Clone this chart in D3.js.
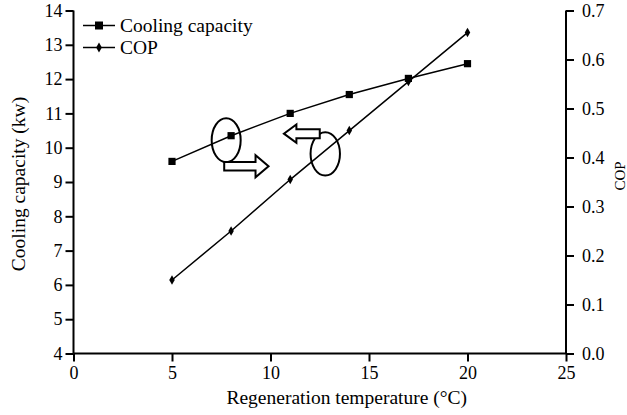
<!DOCTYPE html>
<html>
<head>
<meta charset="utf-8">
<script src="https://cdn.jsdelivr.net/npm/d3@7"></script>
<style>
  body { margin: 0; background: #fff; }
  svg { display: block; font-family: "Liberation Serif", "Times New Roman", serif; }
</style>
</head>
<body>
<div id="chart"></div>
<script>
// Regeneration temperature (°C)
var temps = [5, 8, 11, 14, 17, 20];
// Cooling capacity (kw), left axis
var capacity = [9.6, 10.35, 11.0, 11.55, 12.02, 12.45];
// COP, right axis
var cop = [0.15, 0.25, 0.355, 0.455, 0.555, 0.655];

var xTicks = [0, 5, 10, 15, 20, 25];
var yLeftTicks = [4, 5, 6, 7, 8, 9, 10, 11, 12, 13, 14];
var yRightTicks = [0, 0.1, 0.2, 0.3, 0.4, 0.5, 0.6, 0.7];

var width = 627, height = 415;
var margin = { top: 10.5, right: 61, bottom: 61.5, left: 73.5 };
var innerW = width - margin.left - margin.right;
var innerH = height - margin.top - margin.bottom;
var tickFont = '18px', labelFont = '19.5px';

var svg = d3.select('#chart').append('svg')
    .attr('width', width)
    .attr('height', height);

var g = svg.append('g')
    .attr('transform', 'translate(' + margin.left + ',' + margin.top + ')');

var x = d3.scaleLinear().domain([0, 25]).range([0, innerW]);
var yL = d3.scaleLinear().domain([4, 14]).range([innerH, 0]);
var yR = d3.scaleLinear().domain([0, 0.7]).range([innerH, 0]);

// axes
var xAxis = g.append('g')
    .attr('transform', 'translate(0,' + innerH + ')')
    .call(d3.axisBottom(x).tickValues(xTicks).tickSize(8).tickPadding(5));
var leftAxis = g.append('g')
    .call(d3.axisLeft(yL).tickValues(yLeftTicks).tickSize(8).tickPadding(3));
var rightAxis = g.append('g')
    .attr('transform', 'translate(' + innerW + ',0)')
    .call(d3.axisRight(yR).tickValues(yRightTicks).tickFormat(d3.format('.1f')).tickSize(8).tickPadding(8));

[xAxis, leftAxis, rightAxis].forEach(function(a) {
    a.select('.domain').attr('stroke', '#000').attr('stroke-width', 2);
    a.selectAll('.tick line').attr('stroke', '#000').attr('stroke-width', 2);
    a.selectAll('.tick text')
        .attr('fill', '#000')
        .style('font-size', tickFont)
        .style('font-family', '"Liberation Serif", serif');
});
// plain axis ends, no outer ticks
xAxis.select('.domain').attr('d', 'M0,0H' + innerW);
leftAxis.select('.domain').attr('d', 'M0,0V' + innerH);
rightAxis.select('.domain').attr('d', 'M0,0V' + innerH);

// axis titles
svg.append('text')
    .attr('x', margin.left + innerW / 2 + 27)
    .attr('y', 404)
    .attr('text-anchor', 'middle')
    .style('font-size', labelFont)
    .text('Regeneration temperature (°C)');

svg.append('text')
    .attr('transform', 'translate(25,' + (margin.top + innerH / 2 + 2) + ') rotate(-90)')
    .attr('text-anchor', 'middle')
    .style('font-size', labelFont)
    .text('Cooling capacity (kw)');

svg.append('text')
    .attr('transform', 'translate(625,176) rotate(-90)')
    .attr('text-anchor', 'middle')
    .style('font-size', '15px')
    .text('COP');

// series
var capData = temps.map(function(t, i) { return { x: t, y: capacity[i] }; });
var copData = temps.map(function(t, i) { return { x: t, y: cop[i] }; });

var lineL = d3.line().x(function(d) { return x(d.x); }).y(function(d) { return yL(d.y); });
var lineR = d3.line().x(function(d) { return x(d.x); }).y(function(d) { return yR(d.y); });

g.append('path').datum(capData)
    .attr('d', lineL)
    .attr('fill', 'none').attr('stroke', '#000').attr('stroke-width', 1.5);
g.append('path').datum(copData)
    .attr('d', lineR)
    .attr('fill', 'none').attr('stroke', '#000').attr('stroke-width', 1.5);

var sq = d3.symbol().type(d3.symbolSquare).size(52);
var dm = d3.symbol().type(d3.symbolDiamond).size(26);

g.selectAll('.cap-pt').data(capData).enter().append('path')
    .attr('class', 'cap-pt')
    .attr('d', sq)
    .attr('transform', function(d) { return 'translate(' + x(d.x) + ',' + yL(d.y) + ')'; })
    .attr('fill', '#000');
g.selectAll('.cop-pt').data(copData).enter().append('path')
    .attr('class', 'cop-pt')
    .attr('d', dm)
    .attr('transform', function(d) { return 'translate(' + x(d.x) + ',' + yR(d.y) + ')'; })
    .attr('fill', '#000');

// annotations: ellipses and hollow arrows (in data units of left axis)
function ell(cx, cy, rx, ry) {
    g.append('ellipse')
        .attr('cx', x(cx)).attr('cy', yL(cy))
        .attr('rx', rx).attr('ry', ry)
        .attr('fill', 'none').attr('stroke', '#000').attr('stroke-width', 2);
}
ell(7.75, 10.22, 14.5, 22);
ell(12.78, 9.82, 14.7, 21.7);

// hollow block arrow from x0 to tip x1 at height yc
function blockArrow(x0, x1, yc, bodyH, headH, headL) {
    var px0 = x(x0), px1 = x(x1), py = yL(yc);
    var dir = px1 > px0 ? 1 : -1;
    var hb = px1 - dir * headL;
    var pts = [
        [px0, py - bodyH / 2], [hb, py - bodyH / 2], [hb, py - headH / 2],
        [px1, py], [hb, py + headH / 2], [hb, py + bodyH / 2], [px0, py + bodyH / 2]
    ];
    g.append('path')
        .attr('d', d3.line()(pts) + 'Z')
        .attr('fill', '#fff').attr('stroke', '#000').attr('stroke-width', 2)
        .attr('stroke-linejoin', 'miter');
}
blockArrow(7.65, 9.9, 9.46, 8.5, 22, 13);
blockArrow(12.5, 10.68, 10.41, 9, 18.5, 12.5);

// legend
var legend = svg.append('g');
var legItems = [
    { label: 'Cooling capacity', sym: d3.symbol().type(d3.symbolSquare).size(64), y: 25.5 },
    { label: 'COP', sym: d3.symbol().type(d3.symbolDiamond).size(28), y: 47.5 }
];
legItems.forEach(function(it) {
    legend.append('line')
        .attr('x1', 83).attr('x2', 115).attr('y1', it.y).attr('y2', it.y)
        .attr('stroke', '#000').attr('stroke-width', 1.5);
    legend.append('path')
        .attr('d', it.sym)
        .attr('transform', 'translate(99,' + it.y + ')')
        .attr('fill', '#000');
    legend.append('text')
        .attr('x', 120).attr('y', it.y + 6.5)
        .style('font-size', labelFont)
        .text(it.label);
});
</script>
</body>
</html>
